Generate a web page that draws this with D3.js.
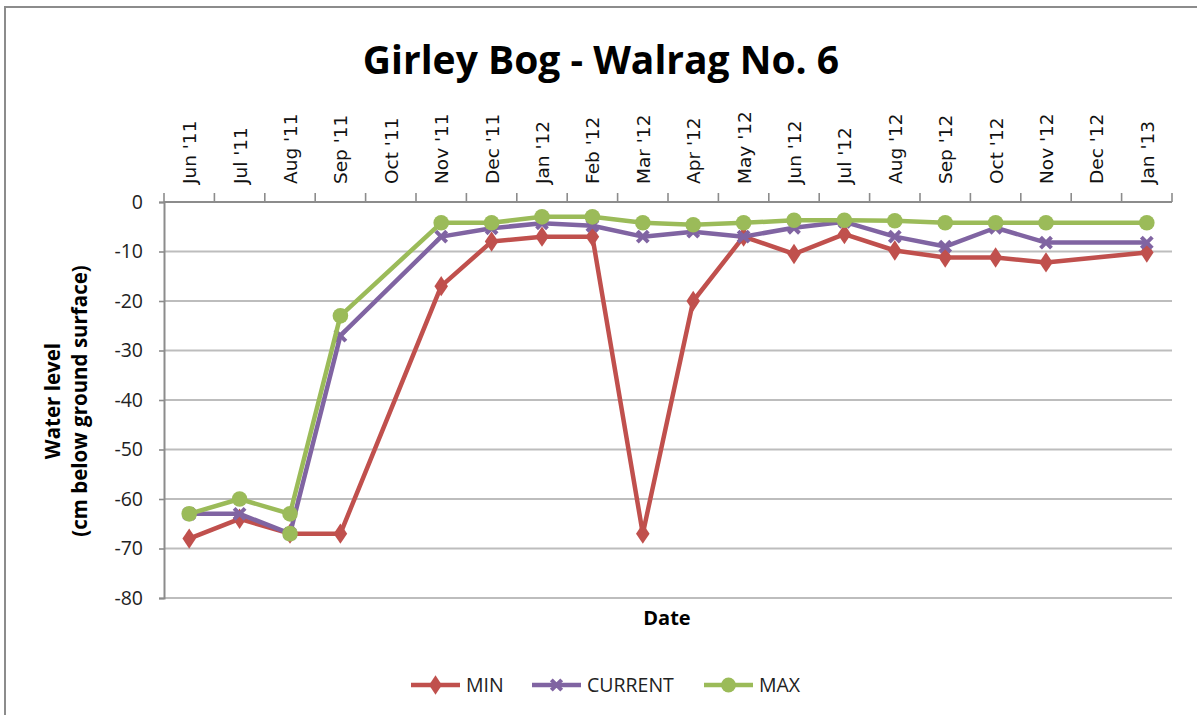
<!DOCTYPE html>
<html><head><meta charset="utf-8">
<script src="https://cdn.jsdelivr.net/npm/d3@7"></script>
<style>
body{margin:0;background:#fff;}
svg{display:block;}
</style></head>
<body>
<svg id="c" width="1197" height="715"></svg>
<script>
const categories = ["Jun '11","Jul '11","Aug '11","Sep '11","Oct '11","Nov '11","Dec '11","Jan '12","Feb '12","Mar '12","Apr '12","May '12","Jun '12","Jul '12","Aug '12","Sep '12","Oct '12","Nov '12","Dec '12","Jan '13"];
const minValues     = [-68,-64,-67,-67,null,-17,-8,-7,-7,-67,-20,-7,-10.5,-6.5,-9.8,-11.2,-11.2,-12.2,null,-10.2];
const currentValues = [-63,-63,-67,-27,null,-7,-5.3,-4.3,-4.8,-7,-6,-7,-5.2,-4,-7,-9,-5.2,-8.2,null,-8.2];
const maxValues     = [-63,-60,-63,-23,null,-4.2,-4.2,-3,-3,-4.2,-4.6,-4.2,-3.7,-3.7,-3.8,-4.2,-4.2,-4.2,null,-4.2];
const maxExtraPoint = [null,null,-67,null,null,null,null,null,null,null,null,null,null,null,null,null,null,null,null,null];
const yTicks = [0,-10,-20,-30,-40,-50,-60,-70,-80];
const seriesNames = ["MIN","CURRENT","MAX"];
const colors = {MIN:"#c0504d", CURRENT:"#8064a2", MAX:"#9bbb59"};

const svg = d3.select("#c");
svg.append("rect").attr("x",5).attr("y",7).attr("width",1200).attr("height",720)
  .attr("fill","#fff").attr("stroke","#8c8c8c").attr("stroke-width",2);

const L=164, R=1172, T=202, B=598;
const x = d3.scaleBand().domain(categories).range([L,R]).paddingInner(0).paddingOuter(0);
const y = d3.scaleLinear().domain([-80,0]).range([B,T]);

svg.append("g").selectAll("line").data(yTicks.filter(v=>v!==0)).join("line")
  .attr("x1",L).attr("x2",R).attr("y1",d=>y(d)).attr("y2",d=>y(d))
  .attr("stroke","#bdbdbd").attr("stroke-width",2);

const yAxis = svg.append("g").attr("transform",`translate(${L},0)`)
  .call(d3.axisLeft(y).tickValues(yTicks).tickSize(5).tickPadding(16).tickFormat(d3.format("d")));
yAxis.select(".domain").attr("stroke","#8c8c8c").attr("stroke-width",2);
yAxis.selectAll(".tick line").attr("stroke","#8c8c8c").attr("stroke-width",1.6);
yAxis.selectAll(".tick text").attr("font-family","'Open Sans', sans-serif").attr("font-size",19.5).attr("fill","#222")
  .text(d=>d===0?"0":"-"+Math.abs(d));

const xg = svg.append("g");
xg.append("line").attr("x1",L).attr("x2",R).attr("y1",T).attr("y2",T).attr("stroke","#8c8c8c").attr("stroke-width",2);
const bounds = categories.map(c=>x(c)).concat([R]);
xg.selectAll("line.tk").data(bounds).join("line").attr("class","tk")
  .attr("x1",d=>d).attr("x2",d=>d).attr("y1",T).attr("y2",T-9).attr("stroke","#8c8c8c").attr("stroke-width",1.6);
xg.selectAll("text").data(categories).join("text")
  .attr("transform",d=>`translate(${x(d)+x.bandwidth()/2+7},184) rotate(-90)`)
  .attr("text-anchor","start").attr("font-family","'DejaVu Sans', sans-serif").attr("font-size",18.5).attr("fill","#111")
  .text(d=>d);

svg.append("text").attr("x",601).attr("y",74).attr("text-anchor","middle")
  .attr("font-family","'Open Sans',sans-serif").attr("font-weight","bold").attr("font-size",39)
  .attr("fill","#000").text("Girley Bog - Walrag No. 6");

svg.append("text").attr("transform","translate(60,401) rotate(-90)").attr("text-anchor","middle")
  .attr("font-family","'Open Sans',sans-serif").attr("font-weight","bold").attr("font-size",20.5).text("Water level");
svg.append("text").attr("transform","translate(87,401) rotate(-90)").attr("text-anchor","middle")
  .attr("font-family","'Open Sans',sans-serif").attr("font-weight","bold").attr("font-size",20.5).text("(cm below ground surface)");
svg.append("text").attr("x",667).attr("y",625).attr("text-anchor","middle")
  .attr("font-family","'Open Sans',sans-serif").attr("font-weight","bold").attr("font-size",20).text("Date");

const data = {MIN:minValues, CURRENT:currentValues, MAX:maxValues};
const line = d3.line().x(d=>x(d.c)+x.bandwidth()/2).y(d=>y(d.v));

function marker(g, name, cx, cy, scale){
  const col = colors[name];
  if(name==="MIN"){
    g.append("path").attr("d",d3.symbol(d3.symbolDiamond, 120*scale)()).attr("transform",`translate(${cx},${cy}) scale(1.15,1)`).attr("fill",col);
  } else if(name==="CURRENT"){
    g.append("path").attr("d",d3.symbol(d3.symbolX, 80*scale)()).attr("transform",`translate(${cx},${cy})`)
      .attr("fill","none").attr("stroke",col).attr("stroke-width",4);
  } else {
    g.append("circle").attr("cx",cx).attr("cy",cy).attr("r",7.8*Math.sqrt(scale)).attr("fill",col);
  }
}

const plot = svg.append("g");
seriesNames.forEach(name=>{
  const pts = categories.map((c,i)=>({c, v:data[name][i]})).filter(d=>d.v!==null);
  const g = plot.append("g");
  g.append("path").datum(pts).attr("d",line).attr("fill","none").attr("stroke",colors[name])
    .attr("stroke-width",4.5).attr("stroke-linejoin","round");
  pts.forEach(d=>marker(g,name,x(d.c)+x.bandwidth()/2,y(d.v),1));
});
categories.forEach((c,i)=>{
  if(maxExtraPoint[i]!==null) marker(plot,"MAX",x(c)+x.bandwidth()/2,y(maxExtraPoint[i]),1);
});

const legend = svg.append("g");
const lx = {MIN:411, CURRENT:532, MAX:704};
seriesNames.forEach(name=>{
  const g = legend.append("g");
  const x0 = lx[name], yy = 685;
  g.append("line").attr("x1",x0).attr("x2",x0+49).attr("y1",yy).attr("y2",yy).attr("stroke",colors[name]).attr("stroke-width",4.5);
  marker(g,name,x0+24.5,yy,0.9);
  g.append("text").attr("x",x0+55).attr("y",yy+7).attr("font-family","'Open Sans',sans-serif").attr("font-size",19.5).attr("fill","#222").text(name);
});
</script>
</body></html>
